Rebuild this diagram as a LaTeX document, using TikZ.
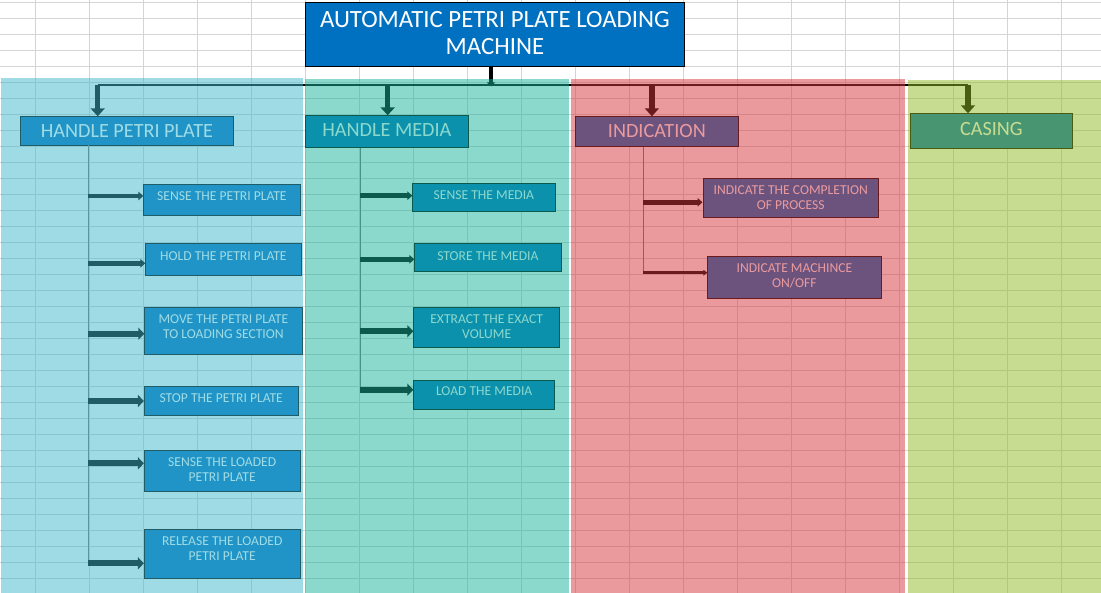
\documentclass[tikz,border=0pt]{standalone}
\usepackage{fontspec}
\setmainfont{Carlito}
\usetikzlibrary{arrows.meta,positioning}
\definecolor{boxblue}{RGB}{0,112,192}
\definecolor{gridgray}{RGB}{212,212,212}
\definecolor{lanea}{RGB}{65,185,205}
\definecolor{laneb}{RGB}{25,179,155}
\definecolor{lanec}{RGB}{215,55,61}
\definecolor{laned}{RGB}{145,187,37}
\tikzset{
  gridline/.style={gridgray, line width=1pt},
  ttlbox/.style={draw=black, line width=1pt, fill=boxblue, anchor=north west, inner sep=0pt},
  ttltxt/.style={text=white, font=\fontsize{24.8}{26.6}\selectfont, align=center, inner sep=0pt},
  hdbox/.style={draw=black, line width=0.8pt, fill=boxblue, anchor=north west, inner sep=0pt},
  hdtxt/.style={text=white, font=\fontsize{20.2}{22}\selectfont, inner sep=0pt},
  subbox/.style={draw=black, line width=0.8pt, fill=boxblue, anchor=north west, inner sep=0pt},
  subtxt/.style={text=white, font=\fontsize{13.6}{14.8}\selectfont, align=center, inner sep=0pt},
  bus/.style={black, line width=2pt},
  stemarr/.style={-{Triangle[width=8pt,length=4pt]}, black, line width=4.5pt},
  droparr/.style={-{Triangle[width=14pt,length=8pt]}, black, line width=5.5pt},
  spine/.style={black!55, line width=1pt},
  subarr/.style={-{Triangle[width=8.5pt,length=5pt]}, black, line width=4.5pt},
  widearr/.style={-{Triangle[width=12pt,length=6pt]}, black, line width=6pt},
  thinarr/.style={-{Triangle[width=5.5pt,length=4pt]}, black, line width=3pt},
  lane/.style={fill opacity=0.5},
}

\begin{document}
\begin{tikzpicture}[x=1pt, y=-1pt]
  \useasboundingbox (0,0) rectangle (1101,593);
  \fill[white] (0,0) rectangle (1101,593);
  % sheet grid
  \foreach \gx in {0,...,19}
    \draw[gridline] ({35.3+54*\gx},0) -- ({35.3+54*\gx},593);
  \foreach \gy in {0,...,36}
    \draw[gridline] (0,{2.7+16*\gy}) -- (1101,{2.7+16*\gy});

  % title
  \node[ttlbox, minimum width=378.2pt, minimum height=64.3pt] (title) at (305.3,1.7) {};
  \node[ttltxt, below=9.7pt of title.north] (titlet) {AUTOMATIC PETRI PLATE LOADING\\MACHINE};

  % main functions
  \node[hdbox, minimum width=212.4pt, minimum height=28.4pt] (hpp) at (20.3,116.3) {};
  \node[hdtxt, below=7.8pt of hpp.north] (hppt) {HANDLE PETRI PLATE};
  \node[hdbox, minimum width=162.4pt, minimum height=32pt] (hmed) at (305.3,115.3) {};
  \node[hdtxt, below=8.3pt of hmed.north] (hmedt) {HANDLE MEDIA};
  \node[hdbox, minimum width=162.3pt, minimum height=30pt] (hind) at (575.3,116.3) {};
  \node[hdtxt, below=8.1pt of hind.north] (hindt) {INDICATION};
  \node[hdbox, minimum width=161.4pt, minimum height=34.4pt] (hcas) at (910.3,113.3) {};
  \node[hdtxt, below=8.6pt of hcas.north] (hcast) {CASING};

  % petri plate sub-functions
  \node[subbox, minimum width=156.4pt, minimum height=31pt] (s1) at (143.3,184.3) {};
  \node[subtxt, below=7.4pt of s1.north] (s1t) {SENSE THE PETRI PLATE};
  \node[subbox, minimum width=155.4pt, minimum height=32pt] (s2) at (145.3,243.3) {};
  \node[subtxt, below=7.7pt of s2.north] (s2t) {HOLD THE PETRI PLATE};
  \node[subbox, minimum width=157.4pt, minimum height=47pt] (s3) at (144.3,307.3) {};
  \node[subtxt, below=7.4pt of s3.north] (s3t) {MOVE THE PETRI PLATE\\TO LOADING SECTION};
  \node[subbox, minimum width=153.8pt, minimum height=28.4pt] (s4) at (143.9,386.3) {};
  \node[subtxt, below=7.4pt of s4.north] (s4t) {STOP THE PETRI PLATE};
  \node[subbox, minimum width=155.8pt, minimum height=41pt] (s5) at (143.9,450.3) {};
  \node[subtxt, below=7.4pt of s5.north] (s5t) {SENSE THE LOADED\\PETRI PLATE};
  \node[subbox, minimum width=155.8pt, minimum height=49pt] (s6) at (143.9,529.3) {};
  \node[subtxt, below=7.1pt of s6.north] (s6t) {RELEASE THE LOADED\\PETRI PLATE};

  % media sub-functions
  \node[subbox, minimum width=142.4pt, minimum height=27.4pt] (m1) at (412.3,183.3) {};
  \node[subtxt, below=7.4pt of m1.north] (m1t) {SENSE THE MEDIA};
  \node[subbox, minimum width=146.4pt, minimum height=27.4pt] (m2) at (414.3,243.3) {};
  \node[subtxt, below=7.7pt of m2.north] (m2t) {STORE THE MEDIA};
  \node[subbox, minimum width=146pt, minimum height=40pt] (m3) at (413.3,307.3) {};
  \node[subtxt, below=7.4pt of m3.north] (m3t) {EXTRACT THE EXACT\\VOLUME};
  \node[subbox, minimum width=141pt, minimum height=29.6pt] (m4) at (413.3,379.7) {};
  \node[subtxt, below=6.7pt of m4.north] (m4t) {LOAD THE MEDIA};

  % indication sub-functions
  \node[subbox, minimum width=175.7pt, minimum height=39pt] (i1) at (702.5,178.3) {};
  \node[subtxt, below=7.4pt of i1.north] (i1t) {INDICATE THE COMPLETION\\OF PROCESS};
  \node[subbox, minimum width=173.2pt, minimum height=42pt] (i2) at (707.4,256.3) {};
  \node[subtxt, below=7.4pt of i2.north] (i2t) {INDICATE MACHINCE\\ON/OFF};

  % bus and drops
  \coordinate (busa) at (97.7,84.7);
  \coordinate (busb) at (387.7,84.7);
  \coordinate (busc) at (651.9,84.7);
  \coordinate (busd) at (968,84.7);
  \coordinate (bust) at (491,86.5);
  \draw[bus] (busa) -- (busd);
  \draw[stemarr] (title.south -| bust) -- (bust);
  \draw[droparr] (busa) -- (busa |- hpp.north);
  \draw[droparr] (busb) -- (busb |- hmed.north);
  \draw[droparr] (busc) -- (busc |- hind.north);
  \draw[droparr] (busd) -- (busd |- hcas.north);

  % petri plate branch
  \coordinate (a1) at (88,196);
  \coordinate (a2) at (88,263.3);
  \coordinate (a3) at (88,333.7);
  \coordinate (a4) at (88,401);
  \coordinate (a5) at (88,463.3);
  \coordinate (a6) at (88,563.3);
  \draw[spine] (hpp.south -| a6) -- (a6);
  \draw[subarr] (a1) -- (a1 -| s1.west);
  \draw[subarr] (a2) -- (a2 -| s2.west);
  \draw[widearr] (a3) -- (a3 -| s3.west);
  \draw[widearr] (a4) -- (a4 -| s4.west);
  \draw[widearr] (a5) -- (a5 -| s5.west);
  \draw[widearr] (a6) -- (a6 -| s6.west);

  % media branch
  \coordinate (b1) at (360,195.7);
  \coordinate (b2) at (360,259.3);
  \coordinate (b3) at (360,331.3);
  \coordinate (b4) at (360,389.7);
  \draw[spine] (hmed.south -| b4) -- (b4);
  \draw[subarr] (b1) -- (b1 -| m1.west);
  \draw[subarr] (b2) -- (b2 -| m2.west);
  \draw[widearr] (b3) -- (b3 -| m3.west);
  \draw[widearr] (b4) -- (b4 -| m4.west);

  % indication branch
  \coordinate (c1) at (643,202.3);
  \coordinate (c2) at (643,272.7);
  \draw[spine] (hind.south -| c2) -- (c2);
  \draw[subarr] (c1) -- (c1 -| i1.west);
  \draw[thinarr] (c2) -- (c2 -| i2.west);

  % coloured lanes over the sheet
  \fill[lanea, lane] (1,78) rectangle (302.7,593);
  \fill[laneb, lane] (305.3,79) rectangle (568.7,593);
  \fill[lanec, lane] (570.7,79) rectangle (905,593);
  \fill[laned, lane] (908,80) rectangle (1101,593);
\end{tikzpicture}
\end{document}
